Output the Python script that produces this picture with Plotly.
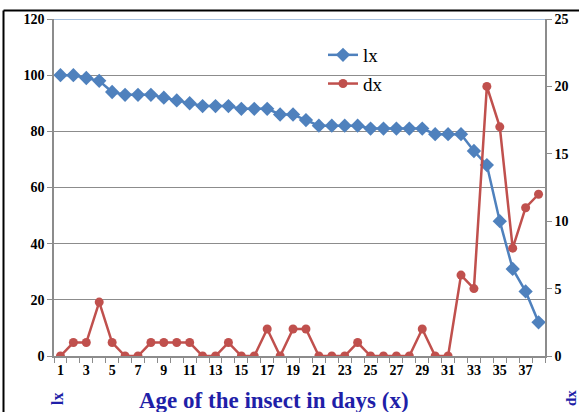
import plotly.graph_objects as go

ages = list(range(1, 39))
lx = [100, 100, 99, 98, 94, 93, 93, 93, 92, 91, 90, 89, 89, 89, 88, 88, 88, 86, 86, 84,
      82, 82, 82, 82, 81, 81, 81, 81, 81, 79, 79, 79, 73, 68, 48, 31, 23, 12]
dx = [0, 1, 1, 4, 1, 0, 0, 1, 1, 1, 1, 0, 0, 1, 0, 0, 2, 0, 2, 2,
      0, 0, 0, 1, 0, 0, 0, 0, 2, 0, 0, 6, 5, 20, 17, 8, 11, 12]
x_tick_vals = [a for a in ages if a % 2 == 1]
x_tick_text = ["<b>%d</b>" % a for a in x_tick_vals]
y1_tick_vals = [0, 20, 40, 60, 80, 100, 120]
y1_tick_text = ["<b>%d</b>" % v for v in y1_tick_vals]
y2_tick_vals = [0, 5, 10, 15, 20, 25]
y2_tick_text = ["<b>%d</b>" % v for v in y2_tick_vals]

W, H = 579, 412
L, R, T, B = 54, 545, 19, 356


def px(xp):
    return (xp - L) / (R - L)


def py(yp):
    return (B - yp) / (B - T)


SERIF = "Liberation Serif"
BLUE = "#4F81BD"
RED = "#C0504D"
GRID = "#8C8C8C"
TITLE = "#1F1FA8"
TICKFONT = dict(family=SERIF, size=14, color="black")

fig = go.Figure()
fig.add_trace(go.Scatter(
    x=ages, y=lx, name="lx", mode="lines+markers", legendgroup="a",
    line=dict(color=BLUE, width=2.5),
    marker=dict(symbol="diamond", size=11, color=BLUE),
))
fig.add_trace(go.Scatter(
    x=ages, y=dx, name="dx", mode="lines+markers", legendgroup="b", yaxis="y2",
    line=dict(color=RED, width=2.5),
    marker=dict(symbol="circle", size=9, color=RED),
))

fig.update_layout(
    width=W, height=H,
    margin=dict(l=L, r=W - R, t=T, b=H - B, autoexpand=False),
    paper_bgcolor="white", plot_bgcolor="white",
    font=dict(family=SERIF, color="black"),
    showlegend=True,
    legend=dict(x=px(323), y=py(36), xanchor="left", yanchor="top",
                bgcolor="rgba(0,0,0,0)", font=dict(family=SERIF, size=19, color="black"),
                tracegroupgap=1, itemwidth=30),
    xaxis=dict(
        range=[0.5, 38.5], tickmode="array", tickvals=x_tick_vals, ticktext=x_tick_text,
        ticks="", showgrid=False, zeroline=False,
        showline=True, linecolor=GRID, linewidth=1.5,
        tickfont=TICKFONT,
        minor=dict(tickmode="array", tickvals=[a - 0.5 for a in ages] + [ages[-1] + 0.5],
                   ticks="outside", ticklen=5, tickcolor=GRID, showgrid=False),
    ),
    yaxis=dict(
        range=[0, 120], tickmode="array", tickvals=y1_tick_vals, ticktext=y1_tick_text,
        ticks="outside", ticklen=5, tickcolor=GRID,
        showgrid=True, gridcolor=GRID, gridwidth=1, zeroline=False,
        showline=True, linecolor=GRID, linewidth=1.5,
        tickfont=TICKFONT,
    ),
    yaxis2=dict(
        range=[0, 25], tickmode="array", tickvals=y2_tick_vals, ticktext=y2_tick_text,
        overlaying="y", side="right",
        ticks="outside", ticklen=5, tickcolor=GRID,
        showgrid=False, zeroline=False,
        showline=True, linecolor=GRID, linewidth=1.5,
        tickfont=TICKFONT,
    ),
    shapes=[
        dict(type="line", xref="paper", yref="y", x0=0, x1=1, y0=120, y1=120,
             line=dict(color=BLUE, width=1), layer="above"),
        dict(type="line", xref="paper", yref="paper", x0=px(3.5), x1=px(3.5),
             y0=py(412), y1=py(10.5), line=dict(color="black", width=2)),
        dict(type="line", xref="paper", yref="paper", x0=px(3.5), x1=px(579),
             y0=py(10.5), y1=py(10.5), line=dict(color="black", width=2)),
    ],
    annotations=[
        dict(text="<b>Age of the insect in days (x)</b>", xref="paper", yref="paper",
             x=px(274), y=py(400), xanchor="center", yanchor="middle", showarrow=False,
             font=dict(family=SERIF, size=23, color=TITLE)),
        dict(text="<b>lx</b>", xref="paper", yref="paper", textangle=-90,
             x=px(57), y=py(399), xanchor="center", yanchor="middle", showarrow=False,
             font=dict(family=SERIF, size=16, color=TITLE)),
        dict(text="<b>dx</b>", xref="paper", yref="paper", textangle=-90,
             x=px(571), y=py(398), xanchor="center", yanchor="middle", showarrow=False,
             font=dict(family=SERIF, size=15, color=TITLE)),
    ],
)

fig.write_html("out.html")
